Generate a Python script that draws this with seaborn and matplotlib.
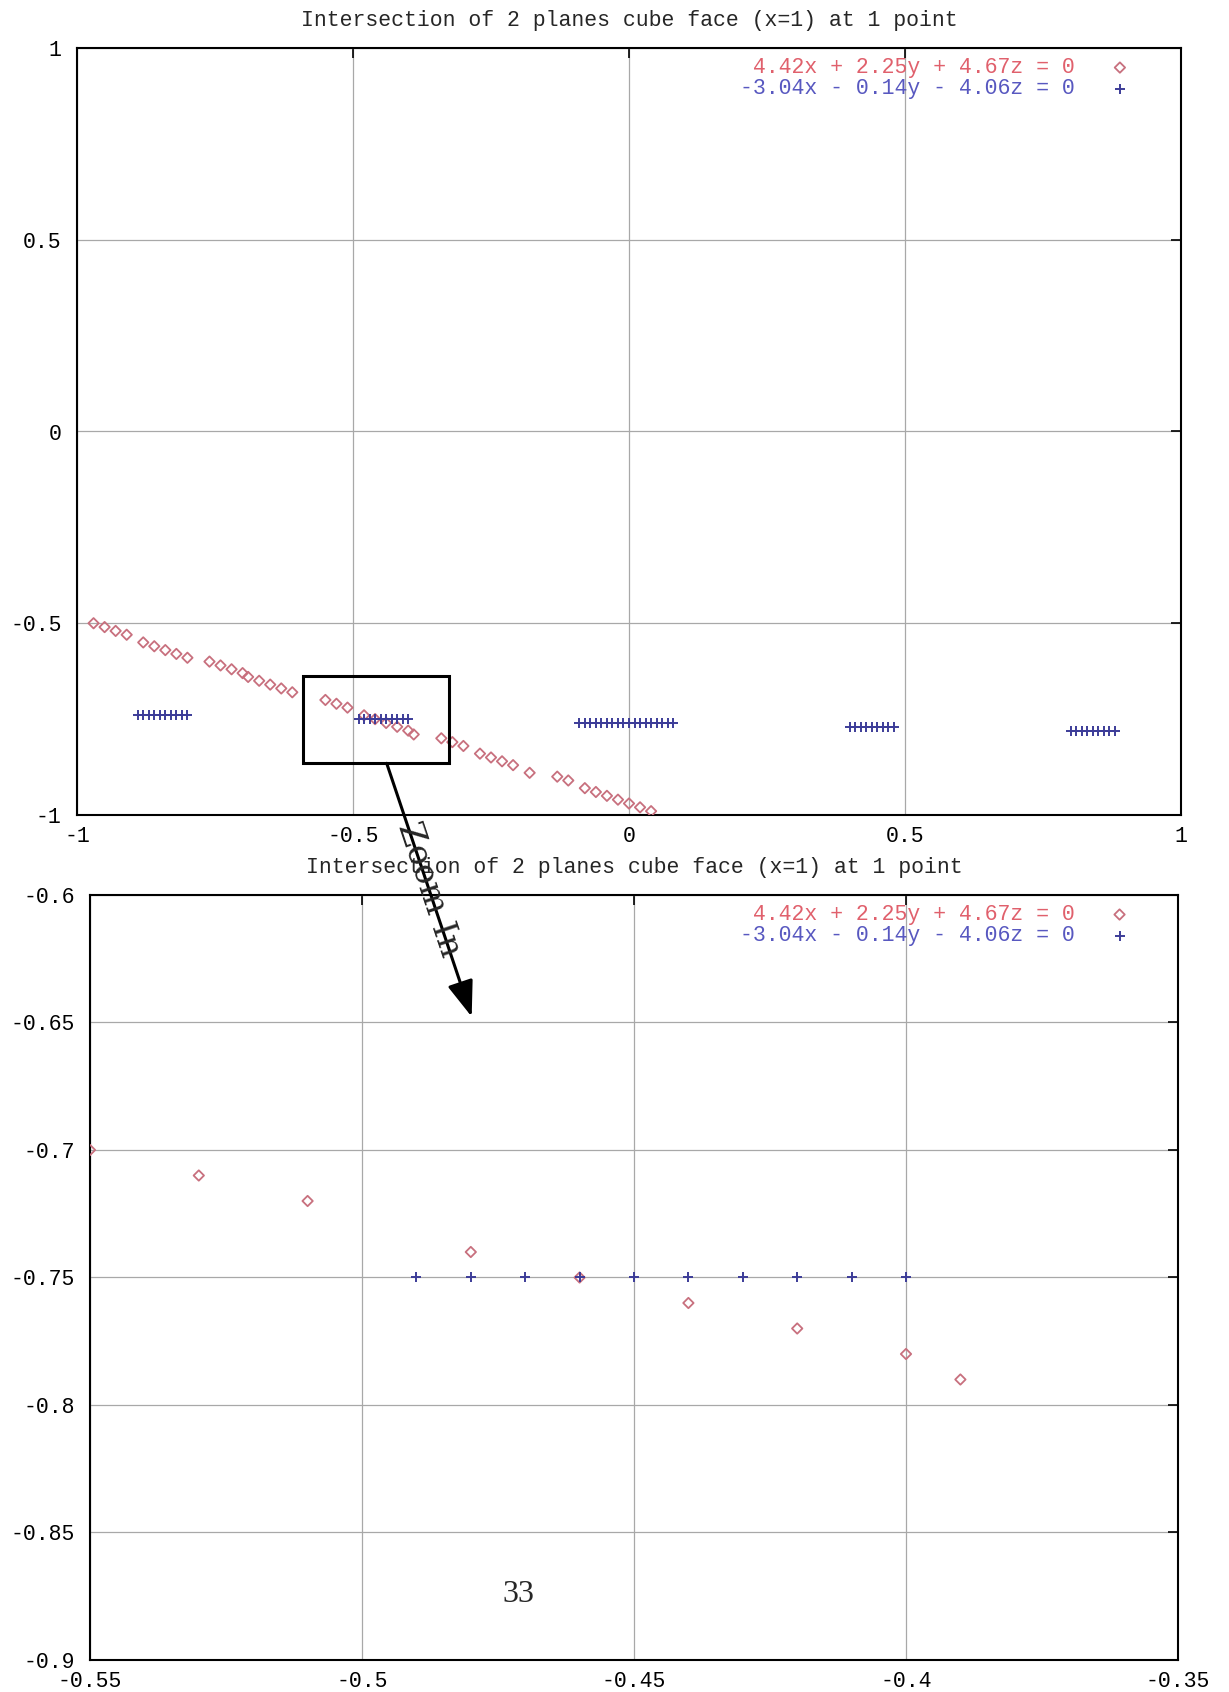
import matplotlib
matplotlib.use("Agg")
import matplotlib.pyplot as plt
import pandas as pd
import seaborn as sns
from matplotlib.patches import Rectangle, FancyArrowPatch

# ---------------- data ----------------
TITLE = "Intersection of 2 planes cube face (x=1) at 1 point"
red_label = "4.42x + 2.25y + 4.67z = 0"
blue_label = "-3.04x - 0.14y - 4.06z = 0"

red_x = [-0.97, -0.95, -0.93, -0.91, -0.88, -0.86, -0.84, -0.82, -0.80, -0.76,
         -0.74, -0.72, -0.70, -0.69, -0.67, -0.65, -0.63, -0.61, -0.55, -0.53,
         -0.51, -0.48, -0.46, -0.44, -0.42, -0.40, -0.39, -0.34, -0.32, -0.30,
         -0.27, -0.25, -0.23, -0.21, -0.18, -0.13, -0.11, -0.08, -0.06, -0.04,
         -0.02, 0.00, 0.02, 0.04]
red_y = [-0.50, -0.51, -0.52, -0.53, -0.55, -0.56, -0.57, -0.58, -0.59, -0.60,
         -0.61, -0.62, -0.63, -0.64, -0.65, -0.66, -0.67, -0.68, -0.70, -0.71,
         -0.72, -0.74, -0.75, -0.76, -0.77, -0.78, -0.79, -0.80, -0.81, -0.82,
         -0.84, -0.85, -0.86, -0.87, -0.89, -0.90, -0.91, -0.93, -0.94, -0.95,
         -0.96, -0.97, -0.98, -0.99]

blue_x = [-0.89, -0.88, -0.87, -0.86, -0.85, -0.84, -0.83, -0.82, -0.81, -0.80,
          -0.49, -0.48, -0.47, -0.46, -0.45, -0.44, -0.43, -0.42, -0.41, -0.40,
          -0.09, -0.08, -0.07, -0.06, -0.05, -0.04, -0.03, -0.02, -0.01, 0.00,
          0.01, 0.02, 0.03, 0.04, 0.05, 0.06, 0.07, 0.08,
          0.40, 0.41, 0.42, 0.43, 0.44, 0.45, 0.46, 0.47, 0.48,
          0.80, 0.81, 0.82, 0.83, 0.84, 0.85, 0.86, 0.87, 0.88]
blue_y = [-0.74, -0.74, -0.74, -0.74, -0.74, -0.74, -0.74, -0.74, -0.74, -0.74,
          -0.75, -0.75, -0.75, -0.75, -0.75, -0.75, -0.75, -0.75, -0.75, -0.75,
          -0.76, -0.76, -0.76, -0.76, -0.76, -0.76, -0.76, -0.76, -0.76, -0.76,
          -0.76, -0.76, -0.76, -0.76, -0.76, -0.76, -0.76, -0.76,
          -0.77, -0.77, -0.77, -0.77, -0.77, -0.77, -0.77, -0.77, -0.77,
          -0.78, -0.78, -0.78, -0.78, -0.78, -0.78, -0.78, -0.78, -0.78]

top_ticks = [-1, -0.5, 0, 0.5, 1]
top_tick_labels = ["-1", "-0.5", "0", "0.5", "1"]
zoom_xticks = [-0.55, -0.5, -0.45, -0.4, -0.35]
zoom_xtick_labels = ["-0.55", "-0.5", "-0.45", "-0.4", "-0.35"]
zoom_yticks = [-0.9, -0.85, -0.8, -0.75, -0.7, -0.65, -0.6]
zoom_ytick_labels = ["-0.9", "-0.85", "-0.8", "-0.75", "-0.7", "-0.65", "-0.6"]
zoom_text = "Zoom In"
page_number = "33"

# ---------------- style ----------------
sns.set_style("white")
plt.rcParams["font.family"] = ["Liberation Mono", "DejaVu Sans Mono"]
plt.rcParams["axes.unicode_minus"] = False

RED_M = "#c8707e"
BLUE_M = "#3c3c98"
RED_T = "#e0606c"
BLUE_T = "#5858c0"
FS = 15.5

W, H = 1229, 1692
fig = plt.figure(figsize=(W / 100, H / 100), dpi=100)
fig.patch.set_facecolor("white")


def px_axes(l, t, r, b):
    return fig.add_axes([l / W, 1 - b / H, (r - l) / W, (b - t) / H])


ax1 = px_axes(77, 48, 1181, 815)
ax2 = px_axes(90, 895, 1178, 1660)

red_df = pd.DataFrame({"x": red_x, "y": red_y})
blue_df = pd.DataFrame({"x": blue_x, "y": blue_y})


def draw(ax, xlim, ylim, xt, xtl, yt, ytl, anchor):
    sns.scatterplot(data=red_df, x="x", y="y", ax=ax, marker="D", s=28,
                    color=RED_M, facecolor="none", edgecolor=RED_M,
                    linewidth=1.3, label=red_label, legend=False, zorder=3)
    sns.scatterplot(data=blue_df, x="x", y="y", ax=ax, marker="+", s=60,
                    color=BLUE_M, linewidth=1.4, label=blue_label,
                    legend=False, zorder=3)
    ax.set_xlim(*xlim)
    ax.set_ylim(*ylim)
    ax.set_xticks(xt, xtl)
    ax.set_yticks(yt, ytl)
    ax.grid(True, color="#a8a8a8", linewidth=0.9)
    ax.set_axisbelow(True)
    ax.tick_params(direction="in", length=7, width=1.2, top=True, right=True,
                   labelsize=FS, colors="black")
    ax.tick_params(axis="x", pad=8)
    ax.tick_params(axis="y", pad=11)
    for sp in ax.spines.values():
        sp.set_visible(True)
        sp.set_color("black")
        sp.set_linewidth(1.5)
    ax.set_xlabel("")
    ax.set_ylabel("")
    ax.set_title(TITLE, fontsize=FS, pad=16)
    handles, labels = ax.get_legend_handles_labels()
    ax.legend(handles, [" " + red_label, blue_label], loc="upper right",
              bbox_to_anchor=anchor, frameon=False, markerfirst=False,
              labelcolor=[RED_T, BLUE_T], fontsize=FS, borderpad=0,
              borderaxespad=0, handlelength=2.6, handletextpad=0.8,
              labelspacing=0.0, scatterpoints=1)


draw(ax1, (-1, 1), (-1, 1), top_ticks, top_tick_labels, top_ticks,
     top_tick_labels, (0.970, 0.988))
draw(ax2, (-0.55, -0.35), (-0.9, -0.6), zoom_xticks, zoom_xtick_labels,
     zoom_yticks, zoom_ytick_labels, (0.972, 0.988))

# ---------------- zoom annotation ----------------
fig.add_artist(Rectangle((303 / W, 1 - 763.3 / H), (449.3 - 303) / W,
                         (763.3 - 676.5) / H, transform=fig.transFigure,
                         fill=False, edgecolor="black", linewidth=2.2,
                         zorder=5))
fig.add_artist(FancyArrowPatch((386.7 / W, 1 - 763.3 / H),
                               (471.7 / W, 1 - 1016.7 / H),
                               transform=fig.transFigure,
                               arrowstyle="-|>,head_length=22,head_width=8",
                               mutation_scale=1, linewidth=2.2,
                               color="black", shrinkA=0, shrinkB=0, zorder=5))
fig.text(429 / W, 1 - 890 / H, zoom_text, rotation=-71.5,
         rotation_mode="anchor", ha="center", va="center",
         family="DejaVu Serif", fontsize=24, zorder=6)
fig.text(518 / W, 1 - 1594 / H, page_number, ha="center", va="center",
         family="Liberation Serif", fontsize=23)

fig.savefig("out.png", dpi=100, facecolor="white")
